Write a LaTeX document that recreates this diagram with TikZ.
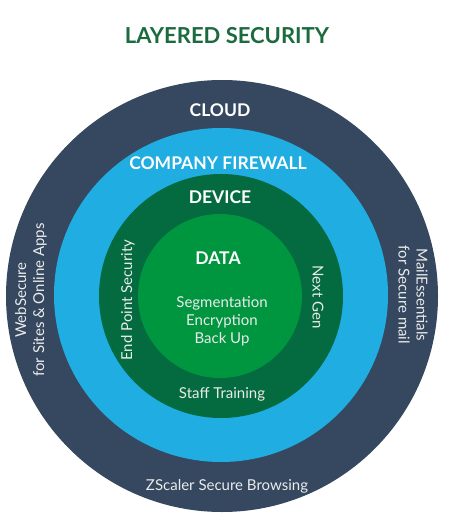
\documentclass[tikz,border=0pt]{standalone}
\usepackage{fontspec}
\setmainfont{Lato}
\definecolor{navy}{HTML}{36485F}
\definecolor{skyblue}{HTML}{1FADE2}
\definecolor{devgreen}{HTML}{036B3F}
\definecolor{datagreen}{HTML}{00953F}
\definecolor{titlegreen}{HTML}{1B6B3F}
\begin{document}
\begin{tikzpicture}[x=1pt,y=-1pt,
  ring/.style={circle,inner sep=0pt,minimum size=#1},
  head/.style={text=white,font=\fontsize{17.5}{17.5}\selectfont\bfseries,inner sep=0pt},
  lbl/.style={text=white!92!black,font=\fontsize{15}{18}\selectfont,inner sep=0pt,align=center}]
\useasboundingbox (0,0) rectangle (452,524);
\fill[white] (0,0) rectangle (452,524);
\node[ring=432pt,fill=navy] (cloud) at (222,296) {};
\node[ring=334pt,fill=skyblue] (fw) at (221,295) {};
\node[ring=244pt,fill=devgreen] (dev) at (221,296) {};
\node[ring=164pt,fill=datagreen] (data) at (220,296) {};
\node[text=titlegreen,font=\fontsize{22}{22}\selectfont\bfseries,inner sep=0pt] (title) at (227,36) {LAYERED SECURITY};
\node[head] (tcloud) at (220,110) {CLOUD};
\node[head] (tfw) at (218,163) {COMPANY FIREWALL};
\node[head] (tdev) at (220,197) {DEVICE};
\node[head] (tdata) at (218,258) {DATA};
\node[lbl] (tseg) at (222,321) {Segmentation\\Encryption\\Back Up};
\node[lbl] (tstaff) at (222,394) {Staff Training};
\node[lbl,rotate=90] (tend) at (128,300) {End Point Security};
\node[lbl,rotate=-90] (tnext) at (318,297) {Next Gen};
\node[lbl,rotate=90] (tweb) at (31,300) {WebSecure\\for Sites \& Online Apps};
\node[lbl,rotate=-90] (tmail) at (413,295) {MailEssentials\\for Secure mail};
\node[lbl] (tz) at (227,486) {ZScaler Secure Browsing};
\end{tikzpicture}
\end{document}
